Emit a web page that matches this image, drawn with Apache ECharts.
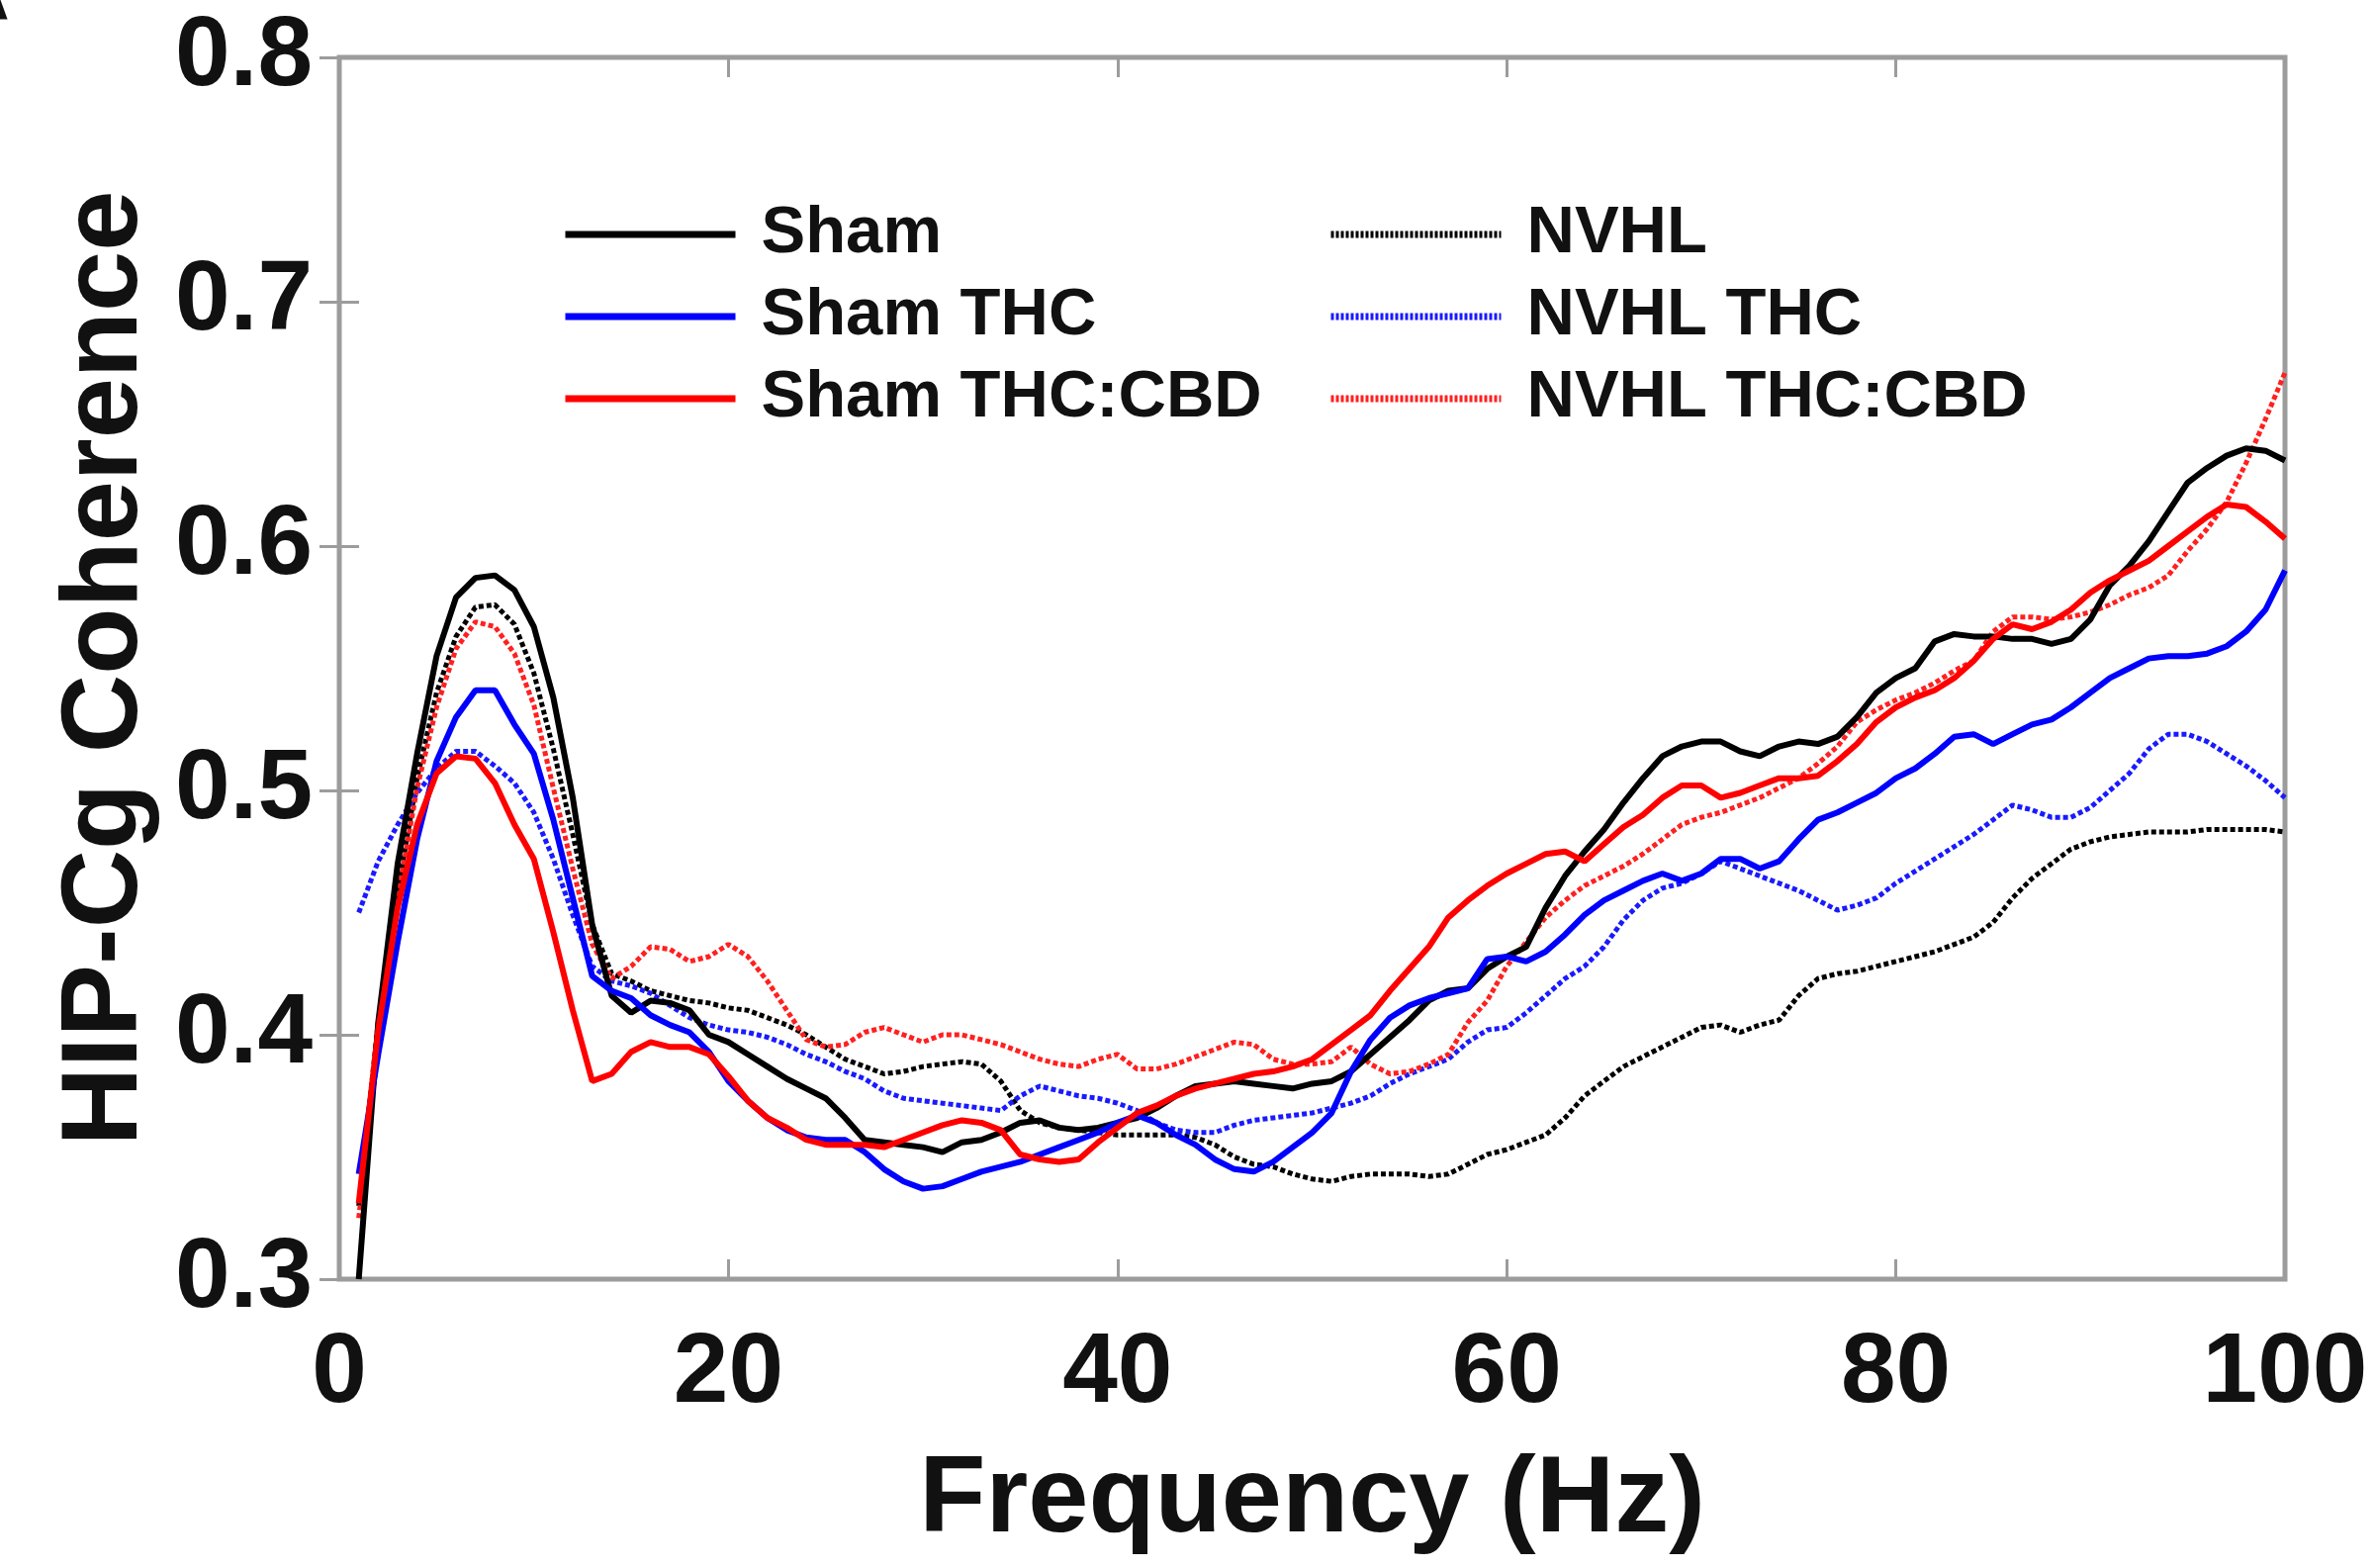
<!DOCTYPE html>
<html>
<head>
<meta charset="utf-8">
<script src="https://cdn.jsdelivr.net/npm/echarts@6/dist/echarts.min.js"></script>
<style>
html,body{margin:0;padding:0;background:#fff;}
#chart{width:2402px;height:1585px;}
</style>
</head>
<body>
<div id="chart"></div>
<script>
// Frequency (Hz)
var freq = [1,2,3,4,5,6,7,8,9,10,11,12,13,14,15,16,17,18,19,20,
21,22,23,24,25,26,27,28,29,30,31,32,33,34,35,36,37,38,39,40,
41,42,43,44,45,46,47,48,49,50,51,52,53,54,55,56,57,58,59,60,
61,62,63,64,65,66,67,68,69,70,71,72,73,74,75,76,77,78,79,80,
81,82,83,84,85,86,87,88,89,90,91,92,93,94,95,96,97,98,99,100];

var sham = [0.300,0.405,0.470,0.515,0.555,0.579,0.587,0.588,0.582,0.567,
0.538,0.497,0.445,0.416,0.409,0.414,0.413,0.410,0.400,0.397,
0.392,0.387,0.382,0.378,0.374,0.366,0.357,0.356,0.355,0.354,
0.352,0.356,0.357,0.360,0.364,0.365,0.362,0.361,0.362,0.364,
0.366,0.370,0.375,0.379,0.380,0.381,0.380,0.379,0.378,0.380,
0.381,0.385,0.392,0.399,0.406,0.414,0.418,0.419,0.427,0.432,
0.436,0.452,0.465,0.475,0.484,0.495,0.505,0.514,0.518,0.520,
0.520,0.516,0.514,0.518,0.520,0.519,0.522,0.530,0.540,0.546,
0.550,0.561,0.564,0.563,0.563,0.562,0.562,0.560,0.562,0.570,
0.584,0.592,0.602,0.614,0.626,0.632,0.637,0.640,0.639,0.635];

var shamTHC = [0.343,0.392,0.438,0.480,0.512,0.530,0.541,0.541,0.527,0.515,
0.488,0.456,0.424,0.418,0.415,0.408,0.404,0.401,0.393,0.381,
0.373,0.366,0.361,0.358,0.357,0.357,0.352,0.345,0.340,0.337,
0.338,0.341,0.344,0.346,0.348,0.351,0.354,0.357,0.360,0.364,
0.367,0.364,0.359,0.355,0.349,0.345,0.344,0.348,0.354,0.360,
0.368,0.385,0.398,0.407,0.412,0.415,0.417,0.419,0.431,0.432,
0.430,0.434,0.441,0.449,0.455,0.459,0.463,0.466,0.463,0.466,
0.472,0.472,0.468,0.471,0.480,0.488,0.491,0.495,0.499,0.505,
0.509,0.515,0.522,0.523,0.519,0.523,0.527,0.529,0.534,0.540,
0.546,0.550,0.554,0.555,0.555,0.556,0.559,0.565,0.574,0.590];

var shamTHCCBD = [0.331,0.402,0.452,0.486,0.507,0.514,0.513,0.503,0.486,0.472,
0.442,0.410,0.381,0.384,0.393,0.397,0.395,0.395,0.392,0.383,
0.373,0.366,0.362,0.357,0.355,0.355,0.355,0.354,0.357,0.360,
0.363,0.365,0.364,0.361,0.351,0.349,0.348,0.349,0.356,0.362,
0.368,0.371,0.375,0.378,0.380,0.382,0.384,0.385,0.387,0.390,
0.396,0.402,0.408,0.418,0.427,0.436,0.448,0.455,0.461,0.466,
0.470,0.474,0.475,0.471,0.478,0.485,0.490,0.497,0.502,0.502,
0.497,0.499,0.502,0.505,0.505,0.506,0.512,0.519,0.528,0.534,
0.538,0.541,0.546,0.553,0.562,0.568,0.566,0.569,0.574,0.581,
0.586,0.590,0.594,0.600,0.606,0.612,0.617,0.616,0.610,0.603];

var nvhl = [0.330,0.405,0.458,0.505,0.540,0.563,0.575,0.576,0.568,0.548,
0.517,0.482,0.445,0.425,0.422,0.418,0.416,0.414,0.413,0.411,
0.410,0.407,0.404,0.400,0.395,0.390,0.387,0.384,0.385,0.387,
0.388,0.389,0.388,0.381,0.369,0.364,0.362,0.361,0.360,0.359,
0.359,0.359,0.359,0.358,0.355,0.350,0.347,0.346,0.343,0.341,
0.340,0.342,0.343,0.343,0.343,0.342,0.343,0.347,0.351,0.353,
0.356,0.359,0.366,0.375,0.381,0.387,0.391,0.395,0.399,0.403,
0.404,0.401,0.404,0.406,0.416,0.423,0.425,0.426,0.428,0.430,
0.432,0.434,0.437,0.440,0.446,0.456,0.464,0.470,0.476,0.479,
0.481,0.482,0.483,0.483,0.483,0.484,0.484,0.484,0.484,0.483];

var nvhlTHC = [0.450,0.471,0.486,0.499,0.509,0.516,0.516,0.510,0.503,0.491,
0.472,0.449,0.428,0.422,0.420,0.417,0.412,0.407,0.404,0.402,
0.401,0.399,0.396,0.392,0.389,0.385,0.382,0.377,0.374,0.373,
0.372,0.371,0.370,0.369,0.375,0.379,0.377,0.375,0.374,0.372,
0.369,0.364,0.361,0.360,0.360,0.363,0.365,0.366,0.367,0.368,
0.370,0.372,0.375,0.380,0.384,0.387,0.390,0.397,0.402,0.403,
0.409,0.416,0.423,0.428,0.436,0.447,0.455,0.460,0.462,0.466,
0.471,0.468,0.465,0.462,0.459,0.455,0.451,0.453,0.456,0.462,
0.467,0.472,0.477,0.482,0.488,0.494,0.492,0.489,0.489,0.493,
0.500,0.507,0.517,0.523,0.523,0.520,0.515,0.510,0.504,0.497];

var nvhlTHCCBD = [0.325,0.395,0.456,0.501,0.534,0.558,0.569,0.567,0.556,0.535,
0.501,0.468,0.437,0.423,0.428,0.436,0.435,0.430,0.432,0.437,
0.432,0.422,0.410,0.398,0.395,0.396,0.401,0.403,0.400,0.397,
0.400,0.400,0.398,0.396,0.393,0.390,0.388,0.387,0.390,0.392,
0.386,0.386,0.388,0.391,0.394,0.397,0.396,0.390,0.388,0.388,
0.389,0.395,0.388,0.384,0.385,0.388,0.392,0.405,0.414,0.428,
0.438,0.448,0.455,0.461,0.465,0.469,0.474,0.480,0.486,0.489,
0.491,0.494,0.497,0.501,0.505,0.511,0.518,0.528,0.533,0.537,
0.540,0.544,0.549,0.553,0.565,0.571,0.571,0.570,0.571,0.573,
0.576,0.580,0.583,0.588,0.598,0.607,0.618,0.634,0.652,0.671];

var seriesNames = ['Sham','Sham THC','Sham THC:CBD','NVHL','NVHL THC','NVHL THC:CBD'];
var xTicks = [0,20,40,60,80,100];
var yTicks = [0.3,0.4,0.5,0.6,0.7,0.8];

function pairs(vals){ return freq.map(function(f,i){ return [f, vals[i]]; }); }

var FONT = "'Liberation Sans', Arial, Helvetica, sans-serif";
var frameColor = '#9c9c9c';

var chart = echarts.init(document.getElementById('chart'), null, {renderer:'canvas'});

function mkSeries(name, vals, color, dotted){
  return {
    name: name, type:'line', data: pairs(vals), symbol:'none', smooth:false,
    animation:false, xAxisIndex:0, yAxisIndex:0,
    lineStyle: dotted ? {color:color, width:5, type:[5,3]} : {color:color, width:6, type:'solid'},
    itemStyle:{color:color}
  };
}

var legendText = {fontFamily:FONT, fontWeight:'bold', fontSize:67, color:'#111', padding:[0,0,0,21], lineHeight:68};

var option = {
  backgroundColor:'#fff',
  animation:false,
  grid:{left:343, right:92, top:58, bottom:292, show:true, borderColor:frameColor, borderWidth:5, backgroundColor:'transparent'},
  legend:[
    {data:seriesNames.slice(0,3), orient:'vertical', left:563, top:198, itemWidth:172, itemHeight:14, itemGap:15,
     textStyle:legendText, selectedMode:false,
     itemStyle:{opacity:0}, lineStyle:{width:7}},
    {data:seriesNames.slice(3,6), orient:'vertical', left:1337, top:198, itemWidth:172, itemHeight:14, itemGap:15,
     textStyle:legendText, selectedMode:false,
     itemStyle:{opacity:0}, lineStyle:{width:7, type:[3,2]}}
  ],
  xAxis:[
    {type:'value', min:xTicks[0], max:xTicks[xTicks.length-1], interval:20, position:'bottom',
     name:'Frequency (Hz)', nameLocation:'middle', nameGap:170,
     nameTextStyle:{fontFamily:FONT, fontWeight:'bold', fontSize:110, color:'#111'},
     axisLine:{show:false}, splitLine:{show:false},
     axisTick:{show:true, inside:true, length:20, lineStyle:{color:frameColor, width:3}},
     axisLabel:{show:true, margin:46, fontFamily:FONT, fontWeight:'bold', fontSize:100, color:'#111'}},
    {type:'value', min:xTicks[0], max:xTicks[xTicks.length-1], interval:20, position:'top',
     axisLine:{show:false}, splitLine:{show:false}, axisLabel:{show:false},
     axisTick:{show:true, inside:true, length:20, lineStyle:{color:frameColor, width:3}}}
  ],
  yAxis:[
    {type:'value', min:yTicks[0], max:yTicks[yTicks.length-1], interval:0.1, position:'left',
     name:'HIP-Cg Coherence', nameLocation:'middle', nameGap:180,
     nameTextStyle:{fontFamily:FONT, fontWeight:'bold', fontSize:110, color:'#111'},
     axisLine:{show:false}, splitLine:{show:false},
     axisTick:{show:true, inside:true, length:20, lineStyle:{color:frameColor, width:3}},
     axisLabel:{show:true, margin:27, fontFamily:FONT, fontWeight:'bold', fontSize:100, color:'#111',
       formatter:function(v){ return v.toFixed(1); }}},
    {type:'value', min:yTicks[0], max:yTicks[yTicks.length-1], interval:0.1, position:'right',
     axisLine:{show:false}, splitLine:{show:false}, axisLabel:{show:false},
     axisTick:{show:true, inside:true, length:20, lineStyle:{color:frameColor, width:3}}}
  ],
  graphic:[
    {type:'text', left:-62, top:-58, silent:true,
     style:{text:'A', font:"bold 100px 'Liberation Sans', Arial, sans-serif", fill:'#111'}}
  ],
  series:[
    mkSeries(seriesNames[3], nvhl, '#000000', true),
    mkSeries(seriesNames[4], nvhlTHC, '#1a1aff', true),
    mkSeries(seriesNames[5], nvhlTHCCBD, '#ff2020', true),
    mkSeries(seriesNames[0], sham, '#000000', false),
    mkSeries(seriesNames[1], shamTHC, '#0000ff', false),
    mkSeries(seriesNames[2], shamTHCCBD, '#ff0000', false)
  ]
};
chart.setOption(option);
</script>
</body>
</html>
